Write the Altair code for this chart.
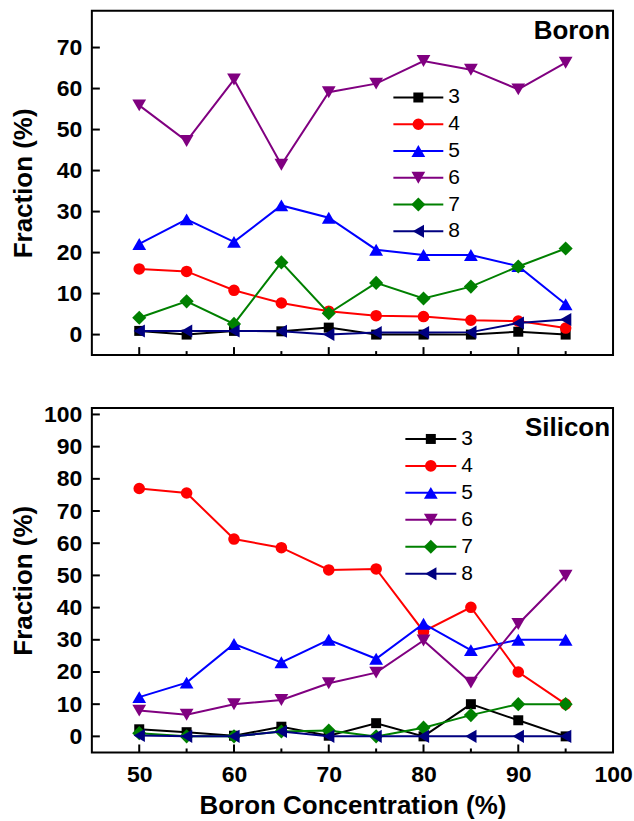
import altair as alt
import pandas as pd

# ---------------- data ----------------
conc = [50, 55, 60, 65, 70, 75, 80, 85, 90, 95]
series = ["3", "4", "5", "6", "7", "8"]
colors = ["#000000", "#FF0000", "#0000FF", "#800080", "#008000", "#000080"]
shapes = ["square", "circle", "triangle-up", "triangle-down", "diamond", "triangle-left"]
marker_sizes = [100, 135, 190, 190, 200, 170]

boron = {
    "3": [0.9, 0.0, 0.9, 0.8, 1.7, 0.0, 0.0, 0.0, 0.7, 0.0],
    "4": [16.0, 15.4, 10.8, 7.7, 5.7, 4.6, 4.4, 3.5, 3.3, 1.6],
    "5": [22.1, 28.1, 22.6, 31.5, 28.5, 20.7, 19.4, 19.4, 16.7, 7.4],
    "6": [55.9, 47.2, 62.2, 41.4, 59.1, 61.2, 66.7, 64.6, 59.8, 66.3],
    "7": [4.1, 8.1, 2.6, 17.6, 5.2, 12.6, 8.8, 11.7, 16.6, 21.0],
    "8": [0.9, 0.9, 0.9, 0.8, 0.0, 0.5, 0.5, 0.6, 2.8, 3.7],
}
silicon = {
    "3": [2.2, 1.3, 0.2, 3.0, 0.2, 4.1, 0.0, 10.0, 5.0, 0.0],
    "4": [77.0, 75.6, 61.3, 58.6, 51.7, 52.0, 32.6, 40.1, 20.0, 10.0],
    "5": [12.2, 16.7, 28.7, 23.0, 30.0, 24.1, 35.0, 26.8, 30.0, 30.0],
    "6": [8.0, 6.7, 10.0, 11.3, 16.5, 19.8, 29.8, 16.7, 34.9, 49.9],
    "7": [1.0, 0.0, 0.0, 1.5, 1.8, 0.0, 2.7, 6.6, 10.0, 10.0],
    "8": [0.3, 0.0, 0.0, 1.5, 0.0, 0.0, 0.0, 0.0, 0.0, 0.0],
}
panel_names = ["Boron", "Silicon"]
top_yticks = [0, 10, 20, 30, 40, 50, 60, 70]
bot_yticks = [0, 10, 20, 30, 40, 50, 60, 70, 80, 90, 100]
x_major = [50, 60, 70, 80, 90]
x_minor = [55, 65, 75, 85, 95]
x_labels = [50, 60, 70, 80, 90, 100]

FONT = "Liberation Sans"
W, H = 522, 345


def long_df(d):
    rows = []
    for s in series:
        for c, v in zip(conc, d[s]):
            rows.append({"conc": c, "value": v, "series": s})
    return pd.DataFrame(rows)


color_enc = alt.Color("series:N", scale=alt.Scale(domain=series, range=colors), legend=None)


def panel(d, name, ydomain, yticks, show_x, title_pad, leg_y, leg_x):
    df = long_df(d)
    xscale = alt.Scale(domain=[45, 100], nice=False, zero=False)
    yscale = alt.Scale(domain=ydomain, nice=False, zero=False)
    if show_x:
        xaxis = alt.Axis(values=x_labels, title="Boron Concentration (%)", labelFlush=False,
                         labelPadding=11, titlePadding=6, labelOverlap=False)
    else:
        xaxis = None
    yaxis = alt.Axis(values=yticks, title="Fraction (%)", labelPadding=10, titlePadding=title_pad)
    X = alt.X("conc:Q", scale=xscale, axis=xaxis)
    Y = alt.Y("value:Q", scale=yscale, axis=yaxis)

    base = alt.Chart(df)
    layers = []
    for s, col, shp, sz in zip(series, colors, shapes, marker_sizes):
        sub = base.transform_filter(alt.datum.series == s)
        layers.append(sub.mark_line(strokeWidth=2, color=col).encode(x=X, y=Y))
        layers.append(sub.mark_point(filled=True, opacity=1, shape=shp, size=sz, color=col).encode(x=X, y=Y))

    ytk = alt.Chart(pd.DataFrame({"value": yticks})).mark_rule(color="black", strokeWidth=2).encode(
        y=Y, x=alt.value(0), x2=alt.value(8)
    )
    xmaj = alt.Chart(pd.DataFrame({"conc": x_major})).mark_rule(color="black", strokeWidth=2).encode(
        x=X, y=alt.value(H), y2=alt.value(H - 8)
    )
    xmin = alt.Chart(pd.DataFrame({"conc": x_minor})).mark_rule(color="black", strokeWidth=2).encode(
        x=X, y=alt.value(H), y2=alt.value(H - 4)
    )
    main = alt.layer(*layers, ytk, xmaj, xmin)

    leg_df = pd.DataFrame({"series": series})
    lscale = alt.Scale(type="point", domain=series, range=leg_y, padding=0)
    ly = alt.Y("series:N", scale=lscale, axis=None)
    lb = alt.Chart(leg_df)
    lrule = lb.mark_rule(strokeWidth=2).encode(y=ly, x=alt.value(leg_x[0]), x2=alt.value(leg_x[1]), color=color_enc)
    lpts = []
    for s, col, shp, sz in zip(series, colors, shapes, marker_sizes):
        lpts.append(lb.transform_filter(alt.datum.series == s).mark_point(
            filled=True, opacity=1, shape=shp, size=sz, color=col
        ).encode(y=ly, x=alt.value((leg_x[0] + leg_x[1]) / 2)))
    ltext = lb.mark_text(align="left", baseline="middle", font=FONT, fontSize=21, color="black").encode(
        y=ly, x=alt.value(leg_x[1] + 5), text="series:N"
    )
    legend = alt.layer(lrule, *lpts, ltext)

    lab = alt.Chart(pd.DataFrame({"label": [name]})).mark_text(
        align="right", baseline="middle", font=FONT, fontSize=26, fontWeight="bold", color="black"
    ).encode(x=alt.value(W - 3), y=alt.value(20), text="label:N")

    return alt.layer(main, legend, lab).resolve_scale(y="independent").properties(width=W, height=H)


top = panel(boron, panel_names[0], [-5, 79], top_yticks, False, 20, [87, 221], [302, 352])
bottom = panel(silicon, panel_names[1], [-5, 102], bot_yticks, True, 7, [31, 166], [314, 365])

chart = alt.vconcat(top, bottom, spacing=45).properties(
    padding={"left": 9, "top": 9, "right": 0, "bottom": 4},
    background="white",
).configure_view(stroke="black", strokeWidth=2).configure_axis(
    grid=False, domain=False, ticks=False, tickSize=0,
    labelFont=FONT, labelFontSize=23, labelFontWeight="bold", labelColor="black",
    titleFont=FONT, titleFontSize=26, titleFontWeight="bold", titleColor="black",
)

chart.save("out.html", embed_options={"renderer": "svg", "actions": False})
